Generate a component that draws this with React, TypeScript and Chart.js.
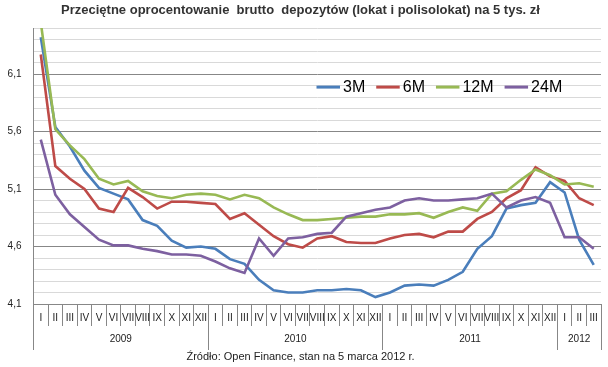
import React, { useEffect, useRef } from 'react';
import { Chart, registerables } from 'chart.js';

Chart.register(...registerables);

const titleText = 'Przeciętne oprocentowanie  brutto  depozytów (lokat i polisolokat) na 5 tys. zł';
const sourceText = 'Źródło: Open Finance, stan na 5 marca 2012 r.';

const years = ['2009', '2010', '2011', '2012'];
const monthsPerYear = [12, 12, 12, 3];
const monthNames = ['I', 'II', 'III', 'IV', 'V', 'VI', 'VII', 'VIII', 'IX', 'X', 'XI', 'XII'];
const yTickLabels = ['4,1', '4,6', '5,1', '5,6', '6,1'];
const seriesNames = ['3M', '6M', '12M', '24M'];

const s3M = [
  6.42, 5.64, 5.47, 5.26, 5.11, 5.06, 5.01, 4.83, 4.78, 4.65, 4.59, 4.60,
  4.58, 4.49, 4.45, 4.31, 4.22, 4.20, 4.20, 4.22, 4.22, 4.23, 4.22, 4.16,
  4.20, 4.26, 4.27, 4.26, 4.31, 4.38, 4.58, 4.69, 4.93, 4.96, 4.98, 5.16,
  5.07, 4.66, 4.44,
];
const s6M = [
  6.27, 5.30, 5.19, 5.10, 4.93, 4.90, 5.11, 5.03, 4.93, 4.99, 4.99, 4.98,
  4.97, 4.84, 4.89, 4.79, 4.69, 4.62, 4.59, 4.67, 4.69, 4.64, 4.63, 4.63,
  4.67, 4.70, 4.71, 4.68, 4.73, 4.73, 4.84, 4.90, 5.02, 5.09, 5.29, 5.21,
  5.17, 5.02, 4.96,
];
const s12M = [
  6.55, 5.62, 5.48, 5.36, 5.19, 5.14, 5.17, 5.08, 5.04, 5.02, 5.05, 5.06,
  5.05, 5.01, 5.05, 5.02, 4.94, 4.88, 4.83, 4.83, 4.84, 4.85, 4.86, 4.86,
  4.88, 4.88, 4.89, 4.85, 4.90, 4.94, 4.91, 5.06, 5.08, 5.18, 5.27, 5.22,
  5.14, 5.15, 5.12,
];
const s24M = [
  5.53, 5.05, 4.88, 4.77, 4.66, 4.61, 4.61, 4.58, 4.56, 4.53, 4.53, 4.52,
  4.47, 4.41, 4.37, 4.67, 4.52, 4.67, 4.68, 4.71, 4.72, 4.86, 4.89, 4.92,
  4.94, 5.00, 5.02, 5.00, 5.00, 5.01, 5.02, 5.06, 4.94, 5.00, 5.03, 4.98,
  4.68, 4.68, 4.58,
];

const seriesValues = [s3M, s6M, s12M, s24M];
const seriesColors = ['#4A7EBB', '#BE4B48', '#98B954', '#7D60A0'];

const FONT = 'Liberation Sans, Arial, sans-serif';
const MAJOR = '#878787';
const MINOR = '#d9d9d9';

const categories: string[] = [];
years.forEach((_, i) => {
  for (let m = 0; m < monthsPerYear[i]; m++) categories.push(monthNames[m]);
});

const yearBounds: number[] = [-0.5];
const yearCenters: number[] = [];
{
  let acc = 0;
  monthsPerYear.forEach((n) => {
    yearCenters.push(acc + (n - 1) / 2);
    acc += n;
    yearBounds.push(acc - 0.5);
  });
}
const isBound = (v: number) => yearBounds.some((b) => Math.abs(b - v) < 1e-6);
const yearAt = (v: number) => {
  const i = yearCenters.findIndex((c) => Math.abs(c - v) < 1e-6);
  return i >= 0 ? years[i] : '';
};

const isMajorY = (v: number) => Math.abs(Math.round((v - 4.1) * 10)) % 5 === 0;
const yLabel = (v: number) => {
  const s = v.toFixed(1).replace('.', ',');
  return yTickLabels.includes(s) && isMajorY(v) ? s : '';
};

const insideLegend = {
  id: 'insideLegend',
  afterDraw(chart: any) {
    const ctx = chart.ctx;
    const area = chart.chartArea;
    let x = area.left + 283;
    const y = area.top + 59;
    ctx.save();
    ctx.font = '16px ' + FONT;
    ctx.textBaseline = 'middle';
    ctx.textAlign = 'left';
    seriesNames.forEach((name, i) => {
      ctx.strokeStyle = seriesColors[i];
      ctx.lineWidth = 3;
      ctx.beginPath();
      ctx.moveTo(x, y);
      ctx.lineTo(x + 23.5, y);
      ctx.stroke();
      x += 26.5;
      ctx.fillStyle = '#000';
      ctx.fillText(name, x, y);
      x += ctx.measureText(name).width + 11;
    });
    ctx.restore();
  },
};

export default function App() {
  const ref = useRef<HTMLCanvasElement | null>(null);

  useEffect(() => {
    if (!ref.current) return;
    const chart = new Chart(ref.current, {
      type: 'line',
      data: {
        labels: categories,
        datasets: seriesValues.map((vals, i) => ({
          label: seriesNames[i],
          data: vals,
          borderColor: seriesColors[i],
          backgroundColor: seriesColors[i],
          borderWidth: 2.6,
          pointRadius: 0,
          tension: 0,
          order: 3 - i,
          xAxisID: 'x',
          yAxisID: 'y',
        })),
      },
      options: {
        responsive: false,
        animation: false,
        events: [],
        layout: { padding: { left: 0, right: 7, top: 0, bottom: 0 } },
        plugins: {
          legend: { display: false },
          tooltip: { enabled: false },
          title: {
            display: true,
            text: titleText,
            color: '#333',
            font: { family: FONT, size: 13, weight: 'bold' },
            padding: { top: 2.5, bottom: 10 },
          },
          subtitle: {
            display: true,
            position: 'bottom',
            text: sourceText,
            color: '#222',
            font: { family: FONT, size: 11, weight: 'normal' },
            padding: { top: 4, bottom: 3.8 },
          },
        },
        scales: {
          x: {
            type: 'category',
            offset: true,
            weight: 0,
            afterFit: (s: any) => {
              s.height = 22;
            },
            grid: {
              display: true,
              drawOnChartArea: false,
              drawTicks: true,
              tickLength: 22,
              offset: true,
              color: MAJOR,
              lineWidth: 1,
            },
            border: { display: true, color: MAJOR },
            ticks: {
              autoSkip: false,
              maxRotation: 0,
              minRotation: 0,
              padding: -14,
              color: '#222',
              font: { family: FONT, size: 10 },
            },
          },
          x2: {
            type: 'linear',
            position: 'bottom',
            weight: 1,
            min: -0.5,
            max: 38.5,
            afterFit: (s: any) => {
              s.height = 20;
            },
            afterBuildTicks: (axis: any) => {
              axis.ticks = [...yearBounds, ...yearCenters]
                .sort((a, b) => a - b)
                .map((v) => ({ value: v }));
            },
            grid: {
              drawOnChartArea: false,
              drawTicks: true,
              tickLength: 24,
              color: (c: any) => (c.tick && isBound(c.tick.value) ? MAJOR : 'rgba(0,0,0,0)'),
            },
            border: { display: false },
            ticks: {
              autoSkip: false,
              maxRotation: 0,
              minRotation: 0,
              padding: -17,
              color: '#222',
              font: { family: FONT, size: 10 },
              callback: (v: any) => yearAt(Number(v)),
            },
          },
          y: {
            type: 'linear',
            min: 4.1,
            max: 6.5,
            afterFit: (s: any) => {
              s.width = 33.5;
            },
            grid: {
              drawTicks: false,
              color: (c: any) => (c.tick && isMajorY(c.tick.value) ? MAJOR : MINOR),
              lineWidth: 1,
            },
            border: { display: true, color: MAJOR },
            ticks: {
              stepSize: 0.1,
              autoSkip: false,
              padding: 12,
              color: '#222',
              font: { family: FONT, size: 10 },
              callback: (v: any) => yLabel(Number(v)),
            },
          },
        },
      } as any,
      plugins: [insideLegend],
    });
    return () => chart.destroy();
  }, []);

  return (
    <div style={{ position: 'absolute', left: 0, top: 0, width: 608, height: 367, background: '#fff' }}>
      <canvas ref={ref} width={608} height={367} style={{ width: 608, height: 367, display: 'block' }} />
    </div>
  );
}
